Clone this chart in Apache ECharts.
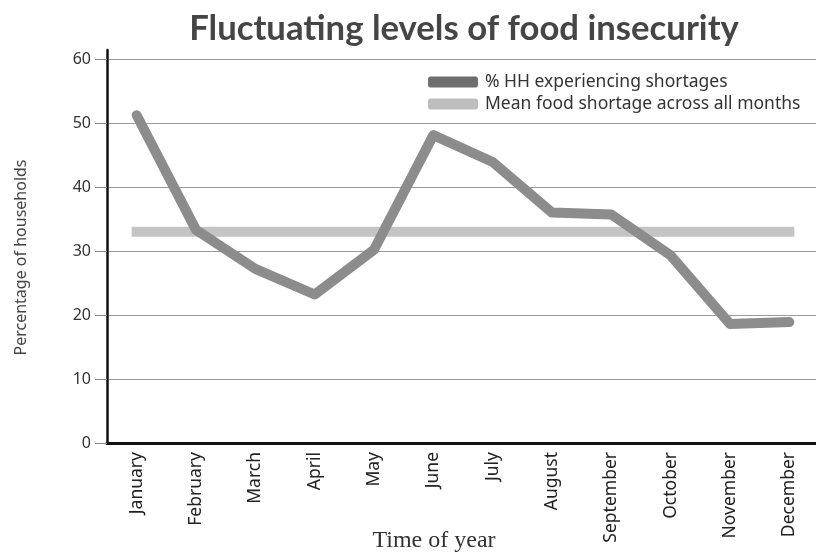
<!DOCTYPE html>
<html>
<head>
<meta charset="utf-8">
<script src="https://cdn.jsdelivr.net/npm/echarts@6/dist/echarts.min.js"></script>
<style>
  html, body { margin: 0; padding: 0; background: #fff; }
  #chart { width: 816px; height: 553px; }
</style>
</head>
<body>
<div id="chart"></div>
<script>
// Monthly share of households reporting food shortages (%)
const months = ['January', 'February', 'March', 'April', 'May', 'June',
                'July', 'August', 'September', 'October', 'November', 'December'];
const shortageShare = [51.2, 33.3, 27.2, 23.2, 30.2, 48.1, 43.9, 36.0, 35.7, 29.3, 18.6, 18.9];
const meanShortage = 33;
const yTicks = [0, 10, 20, 30, 40, 50, 60];

const seriesNames = ['% HH experiencing shortages', 'Mean food shortage across all months'];

const chart = echarts.init(document.getElementById('chart'), null, { renderer: 'canvas' });

const baseFont = '"Noto Sans", "Open Sans", sans-serif';

chart.setOption({
  animation: false,
  backgroundColor: '#ffffff',
  title: {
    text: 'Fluctuating levels of food insecurity',
    left: 459,
    top: 6,
    textAlign: 'center',
    textStyle: { fontFamily: 'Lato, "Open Sans", sans-serif', fontWeight: 'bold', fontSize: 34.7, color: '#454545' }
  },
  legend: {
    orient: 'vertical',
    left: 423,
    top: 68,
    itemGap: 4,
    itemWidth: 50,
    itemHeight: 11,
    icon: 'roundRect',
    textStyle: { fontFamily: baseFont, fontSize: 17.5, color: '#333', padding: [0, 0, 0, 2] },
    data: [
      { name: seriesNames[0], itemStyle: { color: '#6e6e6e' } },
      { name: seriesNames[1], itemStyle: { color: '#bdbdbd' } }
    ]
  },
  grid: { left: 107, right: -3, top: 50, bottom: 110, containLabel: false, outerBoundsMode: 'none' },
  xAxis: {
    type: 'category',
    data: months,
    boundaryGap: true,
    name: 'Time of year',
    nameLocation: 'middle',
    nameGap: 86,
    nameMoveOverlap: false,
    nameTextStyle: { fontFamily: '"Liberation Serif", "DejaVu Serif", serif', fontSize: 24, color: '#333', padding: [0, 58, 0, 0] },
    axisLine: { lineStyle: { color: '#111', width: 3 } },
    axisTick: { show: false },
    axisLabel: { rotate: 90, margin: 9, fontFamily: baseFont, fontSize: 17.5, color: '#222' },
    splitLine: { show: false }
  },
  yAxis: {
    type: 'value',
    min: 0,
    max: 61.4,
    interval: 10,
    name: 'Percentage of households',
    nameLocation: 'middle',
    nameGap: 78,
    nameMoveOverlap: false,
    nameRotate: 90,
    nameTextStyle: { fontFamily: baseFont, fontSize: 16, color: '#444', padding: [0, 22, 0, 0] },
    axisLine: { show: true, lineStyle: { color: '#111', width: 2.5 } },
    axisTick: { show: true, length: 12, lineStyle: { color: '#8a8a8a', width: 1 }, customValues: yTicks },
    axisLabel: { margin: 16, fontFamily: baseFont, fontSize: 16, color: '#333', customValues: yTicks },
    splitLine: { show: true, lineStyle: { color: '#9a9a9a', width: 1 } }
  },
  series: [
    {
      name: seriesNames[1],
      type: 'line',
      data: months.map(() => meanShortage),
      symbol: 'none',
      z: 2,
      lineStyle: { color: '#c4c4c4', width: 10, cap: 'square' },
      itemStyle: { color: '#bdbdbd' }
    },
    {
      name: seriesNames[0],
      type: 'line',
      data: shortageShare,
      symbol: 'none',
      z: 3,
      lineStyle: { color: '#8c8c8c', width: 10, cap: 'round', join: 'round' },
      itemStyle: { color: '#6e6e6e' }
    }
  ]
});
</script>
</body>
</html>
